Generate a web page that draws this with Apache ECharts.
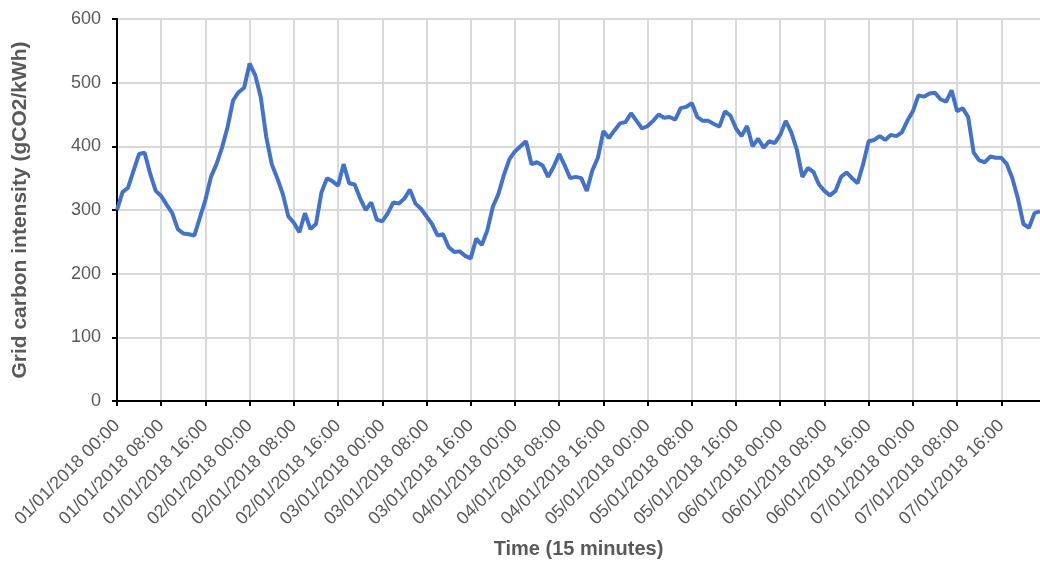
<!DOCTYPE html>
<html>
<head>
<meta charset="utf-8">
<script src="https://cdn.jsdelivr.net/npm/echarts@6/dist/echarts.min.js"></script>
<style>
  html, body { margin: 0; padding: 0; background: #fff; }
  #lineChart { width: 1040px; height: 561px; }
</style>
</head>
<body>
<div id="lineChart"></div>
<script>
  // days and hours shown on the x axis (hourly steps)
  var days = ['01/01/2018', '02/01/2018', '03/01/2018', '04/01/2018', '05/01/2018', '06/01/2018', '07/01/2018']
  var hours = ['00', '01', '02', '03', '04', '05', '06', '07', '08', '09', '10', '11',
               '12', '13', '14', '15', '16', '17', '18', '19', '20', '21', '22', '23']

  // grid carbon intensity (gCO2/kWh)
  var intensity = [
    300, 328, 335, 362, 388, 390, 357, 330, 322, 308, 295, 270, 263, 262, 260, 288, 316, 352, 372, 398, 430, 472, 485, 492,
    530, 512, 478, 415, 372, 350, 325, 290, 280, 265, 295, 270, 278, 328, 350, 345, 338, 372, 342, 340, 318, 300, 312, 285,
    282, 295, 312, 310, 318, 332, 310, 302, 290, 278, 260, 262, 242, 234, 235, 228, 224, 255, 245, 268, 305, 325, 355, 380,
    392, 400, 408, 372, 375, 370, 352, 368, 388, 370, 350, 352, 350, 330, 362, 382, 424, 413, 425, 436, 438, 452, 440, 428,
    432, 440, 450, 445, 446, 442, 460, 462, 468, 446, 440, 440, 435, 431, 455, 448, 428, 416, 432, 400, 412, 398, 408, 405,
    418, 440, 422, 395, 352, 366, 360, 340, 330, 323, 330, 352, 359, 350, 342, 372, 408, 410, 416, 410, 418, 416, 422, 440,
    455, 480, 478, 483, 484, 474, 470, 488, 455, 460, 446, 390, 378, 375, 384, 382, 382, 372, 350, 318, 278, 272, 295, 298
  ]

  var categories = []
  days.forEach(function (d) {
    hours.forEach(function (h) {
      categories.push(d + ' ' + h + ':00')
    })
  })

  var grey = '#595959'
  var font = '"Liberation Sans", Arial, sans-serif'

  var myChart = echarts.init(document.getElementById('lineChart'))
  myChart.setOption({
    animation: false,
    grid: { left: 117, right: 0, top: 19, bottom: 160, containLabel: false, outerBoundsMode: 'none' },
    xAxis: {
      type: 'category',
      data: categories,
      boundaryGap: false,
      name: 'Time (15 minutes)',
      nameLocation: 'middle',
      nameGap: 138,
      nameTextStyle: { color: grey, fontSize: 20, fontWeight: 'bold', fontFamily: font },
      axisLine: { lineStyle: { color: '#000', width: 2 } },
      axisTick: { show: true, interval: 7, length: 5, lineStyle: { color: '#000', width: 2 } },
      axisLabel: { interval: 7, rotate: 45, color: grey, fontSize: 18, fontFamily: font, margin: 22 },
      splitLine: { show: true, interval: 7, lineStyle: { color: '#d9d9d9', width: 2 } }
    },
    yAxis: {
      type: 'value',
      min: 0,
      max: 600,
      interval: 100,
      name: 'Grid carbon intensity (gCO2/kWh)',
      nameLocation: 'middle',
      nameGap: 86,
      nameTextStyle: { color: grey, fontSize: 21, fontWeight: 'bold', fontFamily: font },
      axisLine: { show: true, lineStyle: { color: '#000', width: 2 } },
      axisTick: { show: true, length: 5, lineStyle: { color: '#000', width: 2 } },
      axisLabel: { color: grey, fontSize: 18, fontFamily: font, margin: 16 },
      splitLine: { lineStyle: { color: '#d9d9d9', width: 2 } }
    },
    series: [{
      name: 'Grid carbon intensity',
      type: 'line',
      data: intensity,
      showSymbol: false,
      lineStyle: { color: '#4472C4', width: 4 },
      itemStyle: { color: '#4472C4' }
    }]
  })

  window.addEventListener('resize', function () {
    myChart.resize()
  })
</script>
</body>
</html>
